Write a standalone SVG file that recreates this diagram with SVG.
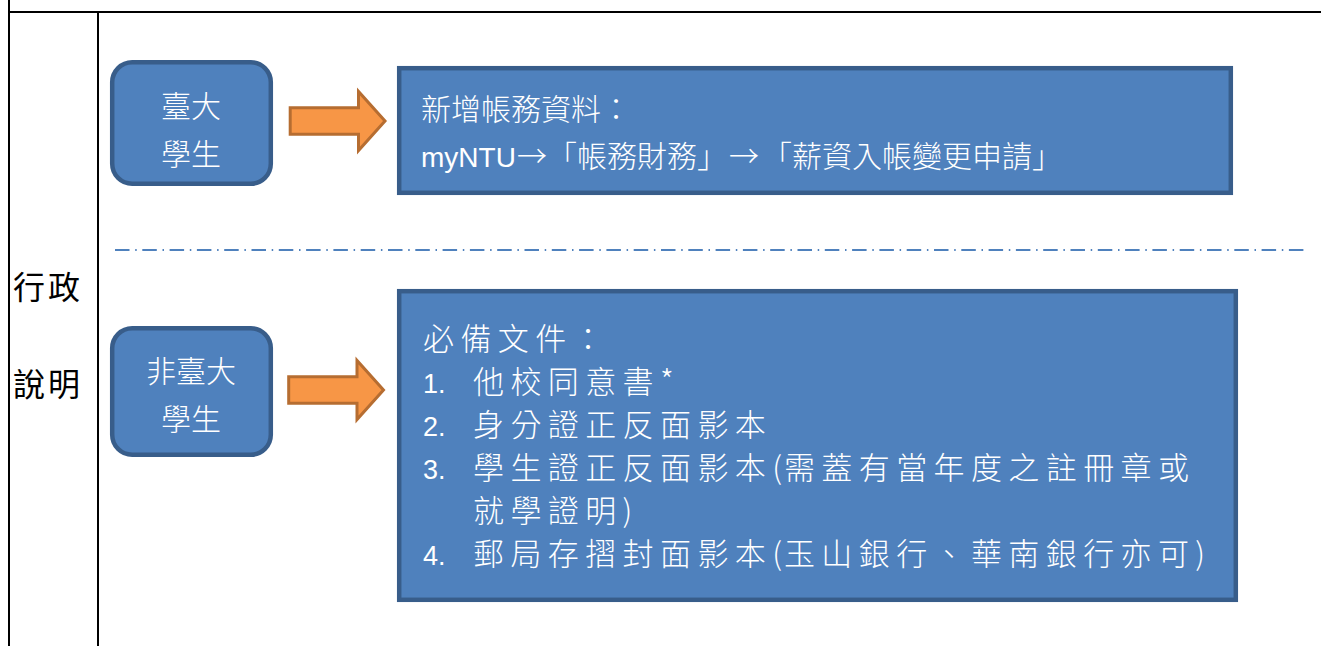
<svg xmlns="http://www.w3.org/2000/svg" xmlns:xlink="http://www.w3.org/1999/xlink" width="1321" height="646" viewBox="0 0 1321 646">
  <style>
    .grid { stroke: #000; stroke-width: 2; fill: none; }
    .node { fill: #4F81BD; stroke: #385D8A; stroke-width: 4.5; }
    .arrow { fill: #F79646; stroke: #B66D31; stroke-width: 3; stroke-linejoin: miter; }
    .cjk { font-family: "Noto Sans CJK TC", "Noto Sans CJK SC", sans-serif; font-size: 30px; font-weight: 300; }
    .white { fill: #FFFFFF; }
    .latin { font-family: "Liberation Sans", "Noto Sans CJK TC", sans-serif; font-weight: normal; }
    .head { font-family: "Noto Sans CJK TC", sans-serif; font-size: 32px; fill: #000; letter-spacing: 3px; }
    .sep { stroke: #4F81BD; stroke-width: 2; stroke-dasharray: 14.5 5.7 1.5 5.6; fill: none; }
    .list { font-size: 31px; letter-spacing: 6.4px; }
    .par { letter-spacing: 2px; }
  </style>
  <defs>
    <path id="blockArrow" d="M290.2,107.7 H358.5 V91.5 L385,121 L358.5,150.5 V134.3 H290.2 Z"/>
  </defs>

  <g id="table">
    <line class="grid" x1="9" y1="12" x2="1321" y2="12"/>
    <line class="grid" x1="9" y1="0" x2="9" y2="646"/>
    <line class="grid" x1="98" y1="12" x2="98" y2="646"/>
    <text class="head" x="13" y="299">行政</text>
    <text class="head" x="13" y="396">說明</text>
  </g>

  <g id="connectors">
    <use xlink:href="#blockArrow" href="#blockArrow" class="arrow"/>
    <use xlink:href="#blockArrow" href="#blockArrow" class="arrow" transform="translate(-1.5,269)"/>
    <line class="sep" x1="115" y1="250" x2="1305" y2="250"/>
  </g>

  <g id="node-ntu-student">
    <rect class="node" x="112.2" y="62.2" width="158.6" height="121.6" rx="20" ry="20"/>
    <text class="cjk white" x="191" y="117" text-anchor="middle">臺大</text>
    <text class="cjk white" x="191" y="165" text-anchor="middle">學生</text>
  </g>

  <g id="node-ntu-steps">
    <rect class="node" x="399.2" y="68.2" width="831.6" height="124.6"/>
    <text class="cjk white" x="421" y="120">新增帳務資料：</text>
    <text class="cjk white" y="167"><tspan class="latin" x="421" font-size="28">myNTU</tspan><tspan x="517">→</tspan><tspan x="547">「帳務財務」</tspan><tspan x="729">→</tspan><tspan x="762">「薪資入帳變更申請」</tspan></text>
  </g>

  <g id="node-other-student">
    <rect class="node" x="112.2" y="328.2" width="158.6" height="126.6" rx="20" ry="20"/>
    <text class="cjk white" x="191" y="382" text-anchor="middle">非臺大</text>
    <text class="cjk white" x="191" y="430" text-anchor="middle">學生</text>
  </g>

  <g id="node-other-docs">
    <rect class="node" x="399.2" y="291.2" width="836.6" height="308.6"/>
    <text class="cjk white list" x="423" y="350">必備文件：</text>
    <text class="latin white" x="423" y="393" font-size="27">1.</text>
    <text class="cjk white list" x="473" y="393">他校同意書*</text>
    <text class="latin white" x="423" y="436" font-size="27">2.</text>
    <text class="cjk white list" x="473" y="436">身分證正反面影本</text>
    <text class="latin white" x="423" y="479" font-size="27">3.</text>
    <text class="cjk white list" x="473" y="479">學生證正反面影本<tspan class="par">(</tspan>需蓋有當年度之註冊章或</text>
    <text class="cjk white list" x="473" y="522">就學證明)</text>
    <text class="latin white" x="423" y="565" font-size="27">4.</text>
    <text class="cjk white list" x="473" y="565">郵局存摺封面影本<tspan class="par">(</tspan>玉山銀行、華南銀行亦可)</text>
  </g>
</svg>
